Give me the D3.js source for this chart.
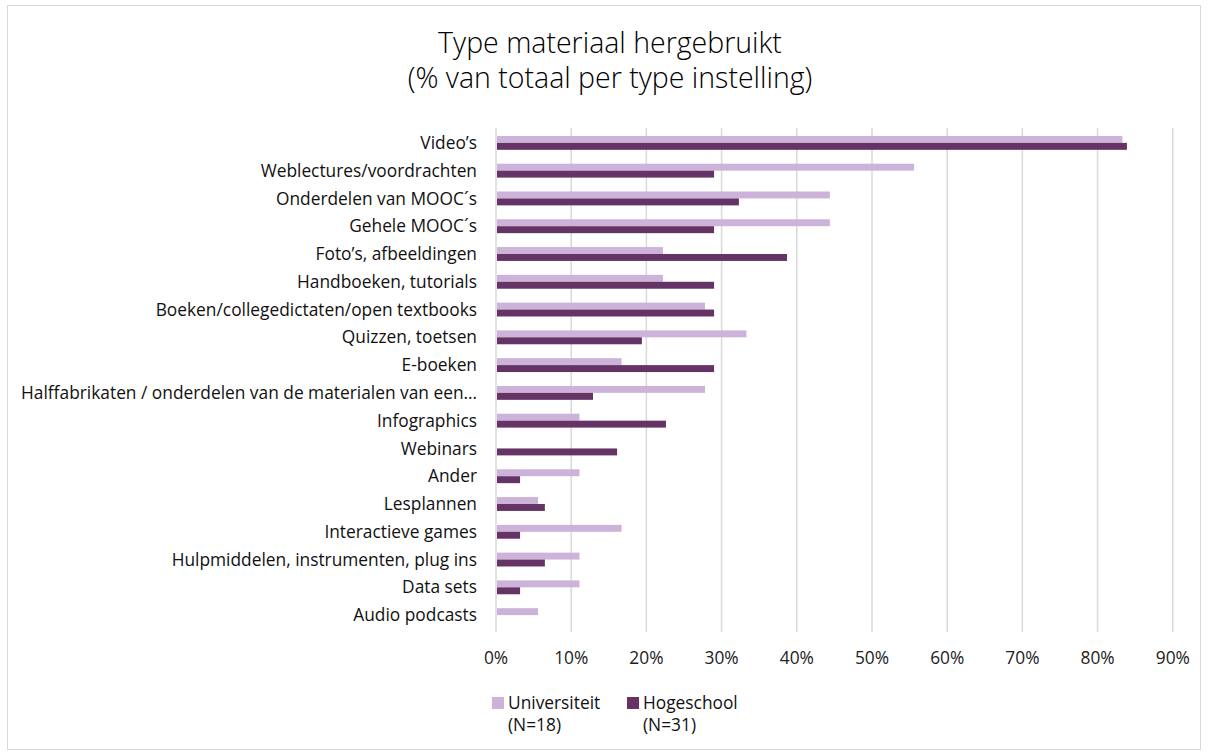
<!DOCTYPE html>
<html>
<head>
<meta charset="utf-8">
<script src="https://cdn.jsdelivr.net/npm/d3@7"></script>
<style>
  body { margin: 0; background: #fff; }
  text { font-family: "Open Sans", Lato, sans-serif; }
</style>
</head>
<body>
<div id="chart"></div>
<script>
const categories = [
    "Video’s",
    "Weblectures/voordrachten",
    "Onderdelen van MOOC´s",
    "Gehele MOOC´s",
    "Foto’s, afbeeldingen",
    "Handboeken, tutorials",
    "Boeken/collegedictaten/open textbooks",
    "Quizzen, toetsen",
    "E-boeken",
    "Halffabrikaten / onderdelen van de materialen van een…",
    "Infographics",
    "Webinars",
    "Ander",
    "Lesplannen",
    "Interactieve games",
    "Hulpmiddelen, instrumenten, plug ins",
    "Data sets",
    "Audio podcasts"
];
// percentages
const universiteit = [83.3, 55.6, 44.4, 44.4, 22.2, 22.2, 27.8, 33.3, 16.7, 27.8, 11.1, 0, 11.1, 5.6, 16.7, 11.1, 11.1, 5.6];
const hogeschool = [83.9, 29.0, 32.3, 29.0, 38.7, 29.0, 29.0, 19.4, 29.0, 12.9, 22.6, 16.1, 3.2, 6.5, 3.2, 6.5, 3.2, 0];
const seriesNames = ["Universiteit", "Hogeschool"];
const seriesSub = ["(N=18)", "(N=31)"];
const seriesColors = ["#cdb3da", "#663366"];
const xTicks = [0, 10, 20, 30, 40, 50, 60, 70, 80, 90];

const width = 1208;
const height = 756;
const margin = { top: 129, right: 35, bottom: 127, left: 496 };

const svg = d3.select("#chart")
    .append("svg")
    .attr("width", width)
    .attr("height", height);

//outer chart border
svg.append("rect")
    .attr("x", 7.5)
    .attr("y", 5.5)
    .attr("width", width - 15)
    .attr("height", height - 12)
    .attr("fill", "#fff")
    .attr("stroke", "#d9d9d9")
    .attr("stroke-width", 1);

//measure the longest label so the text size follows the picture
let probe = svg.append("text")
    .attr("font-size", 15)
    .text(categories[9]);
let fontSize = 15 * 456 / probe.node().getComputedTextLength();
probe.remove();

let titleLines = ["Type materiaal hergebruikt", "(% van totaal per type instelling)"];
svg.append("g")
    .selectAll("text")
    .data(titleLines)
    .join("text")
    .attr("x", 610)
    .attr("y", (d, i) => 53 + i * 35)
    .attr("text-anchor", "middle")
    .attr("font-family", "Lato, sans-serif")
    .attr("font-size", 28.5)
    .attr("font-weight", 300)
    .attr("fill", "#000")
    .text(d => d);

let x = d3.scaleLinear()
    .domain([0, 90])
    .range([margin.left, margin.left + 9 * 75.2]);

let y = d3.scaleBand()
    .domain(categories)
    .range([margin.top, height - margin.bottom])
    .paddingInner(0.5)
    .paddingOuter(0.25);

let ySub = d3.scaleBand()
    .domain(seriesNames)
    .range([0, y.bandwidth()]);

//gridlines
svg.append("g")
    .selectAll("line")
    .data(xTicks)
    .join("line")
    .attr("x1", d => x(d))
    .attr("x2", d => x(d))
    .attr("y1", margin.top - 1)
    .attr("y2", height - margin.bottom + 3)
    .attr("stroke", "#d9d9d9")
    .attr("stroke-width", 1.5);

//tick labels
svg.append("g")
    .selectAll("text")
    .data(xTicks)
    .join("text")
    .attr("x", d => x(d))
    .attr("y", 658)
    .attr("dy", "0.35em")
    .attr("text-anchor", "middle")
    .attr("font-size", fontSize)
    .attr("fill", "#222")
    .text(d => d + "%");

//category labels
svg.append("g")
    .selectAll("text")
    .data(categories)
    .join("text")
    .attr("x", 477)
    .attr("y", d => y(d) + y.bandwidth() / 2)
    .attr("dy", "0.35em")
    .attr("text-anchor", "end")
    .attr("font-size", fontSize)
    .attr("fill", "#111")
    .text(d => d);

let seriesData = [universiteit, hogeschool];

seriesData.forEach((values, si) => {
    svg.append("g")
        .selectAll("rect")
        .data(values.map((v, i) => ({ cat: categories[i], v: v })))
        .join("rect")
        .attr("x", x(0) + 1)
        .attr("y", d => y(d.cat) + ySub(seriesNames[si]))
        .attr("width", d => Math.max(0, x(d.v) - x(0) - 1))
        .attr("height", ySub.bandwidth())
        .attr("fill", seriesColors[si]);
});

//legend
let legendX = [492, 627];
seriesNames.forEach((name, i) => {
    let g = svg.append("g").attr("transform", `translate(${legendX[i]}, 0)`);
    g.append("rect")
        .attr("x", 0)
        .attr("y", 697)
        .attr("width", 12)
        .attr("height", 12)
        .attr("fill", seriesColors[i]);
    g.append("text")
        .attr("x", 16)
        .attr("y", 703)
        .attr("dy", "0.35em")
        .attr("font-size", fontSize)
        .attr("fill", "#111")
        .text(name);
    g.append("text")
        .attr("x", 16)
        .attr("y", 725)
        .attr("dy", "0.35em")
        .attr("font-size", fontSize)
        .attr("fill", "#111")
        .text(seriesSub[i]);
});
</script>
</body>
</html>
